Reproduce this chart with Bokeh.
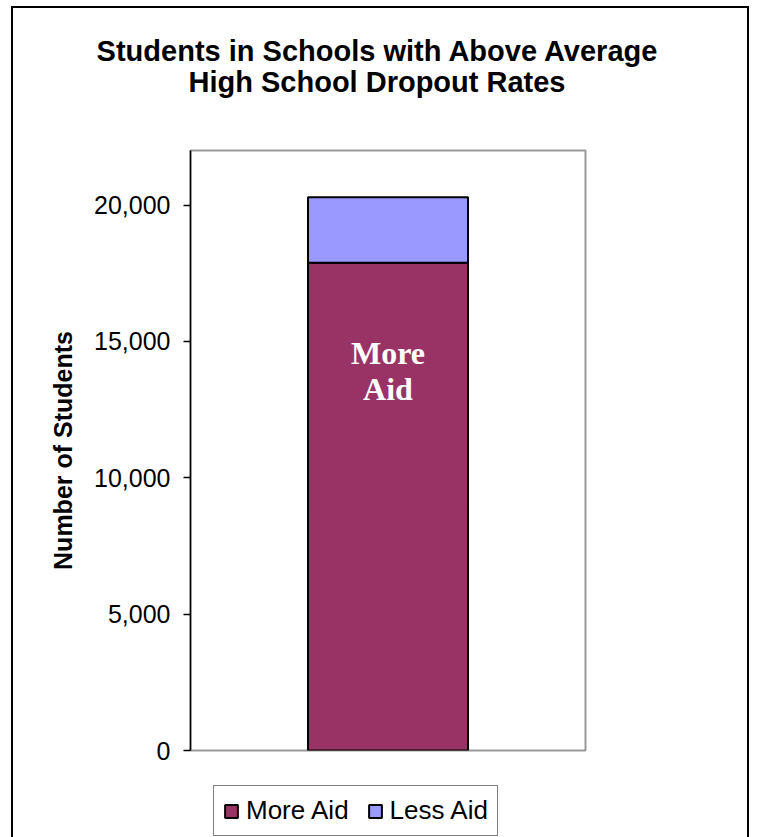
from bokeh.plotting import figure
from bokeh.models import (FactorRange, Range1d, FixedTicker, NumeralTickFormatter,
                          Label, Legend, LegendItem, Div)
from bokeh.layouts import column
from bokeh.embed import file_html
from bokeh.resources import INLINE

# ---- data ----
categories = ["All Students"]
series = ["More Aid", "Less Aid"]
more_aid = [17880]
less_aid = [2410]
y_ticks = [0, 5000, 10000, 15000, 20000]
title_lines = ["Students in Schools with Above Average", "High School Dropout Rates"]
colors = ["#993366", "#9999FF"]

W = 734
src = {"cat": categories, "More Aid": more_aid, "Less Aid": less_aid}

# ---- title block ----
title_div = Div(
    text=('<div style="display:block;width:%dpx;box-sizing:border-box;'
          'font-family:\'Liberation Sans\',Arial,sans-serif;font-size:29px;'
          'font-weight:bold;line-height:31px;text-align:center;color:black;'
          'padding-top:28px;padding-right:6px;margin:0;">' % W
          + title_lines[0] + '<br>' + title_lines[1] + '</div>'),
    width=W, height=112, margin=0)

# ---- main chart ----
p = figure(width=W, height=650, output_backend="svg", toolbar_location=None,
           x_range=FactorRange(factors=categories, range_padding=0),
           y_range=Range1d(0, 22000),
           min_border_left=177, min_border_right=162,
           min_border_top=30, min_border_bottom=20)
p.background_fill_color = "white"
p.border_fill_color = "white"
p.outline_line_color = "#999999"
p.outline_line_width = 2
p.xgrid.visible = False
p.ygrid.visible = False
p.xaxis.visible = False

rs = p.vbar_stack(series, x="cat", width=0.405, source=src, color=colors,
                  line_color="black", line_width=2)

ya = p.yaxis[0]
ya.ticker = FixedTicker(ticks=y_ticks)
ya.formatter = NumeralTickFormatter(format="0,0")
ya.major_label_text_font = "Liberation Sans"
ya.major_label_text_font_size = "25px"
ya.major_label_text_color = "black"
ya.major_label_standoff = 13
ya.major_tick_out = 7
ya.major_tick_in = 0
ya.minor_tick_out = 0
ya.minor_tick_in = 0
ya.axis_line_color = "black"
ya.axis_line_width = 1.5
ya.major_tick_line_color = "black"
ya.major_tick_line_width = 1.5
ya.axis_label = "Number of Students"
ya.axis_label_text_font = "Liberation Sans"
ya.axis_label_text_font_style = "bold"
ya.axis_label_text_font_size = "25px"
ya.axis_label_text_color = "black"
ya.axis_label_standoff = 14

for i, t in enumerate(["More", "Aid"]):
    p.add_layout(Label(x=0.5, y=398 - 36 * i, x_units="data", y_units="screen",
                       text=t, text_align="center", text_baseline="middle",
                       text_font="Liberation Serif", text_font_style="bold",
                       text_font_size="32px", text_color="white"))

# ---- legend strip (its bar renderers are hidden; only the legend shows) ----
p2 = figure(width=W, height=67, output_backend="svg", toolbar_location=None,
            x_range=FactorRange(factors=categories, range_padding=0),
            y_range=Range1d(0, 22000),
            min_border_left=177, min_border_right=162,
            min_border_top=0, min_border_bottom=0)
p2.axis.visible = False
p2.grid.visible = False
p2.outline_line_color = None
p2.background_fill_color = "white"
p2.border_fill_color = "white"
lr = p2.vbar_stack(series, x="cat", width=0.405, source=src, color=colors,
                   line_color="black", line_width=2)
for r in lr:
    r.visible = False
legend = Legend(items=[LegendItem(label=s, renderers=[r]) for s, r in zip(series, lr)],
                orientation="horizontal", location=(23, 1),
                label_text_font="Liberation Sans", label_text_font_size="26px",
                label_text_color="black", glyph_width=16, glyph_height=16,
                spacing=18, padding=9, label_standoff=7, margin=0,
                border_line_color="black", border_line_width=1,
                background_fill_color="white", background_fill_alpha=1)
p2.add_layout(legend, "center")

layout = column(title_div, p, p2, spacing=0,
                styles={"border-left": "2px solid black", "border-top": "2px solid black",
                        "border-right": "2px solid black", "margin-left": "11px",
                        "margin-top": "6px"})

open("out.html", "w").write(file_html(layout, INLINE))
